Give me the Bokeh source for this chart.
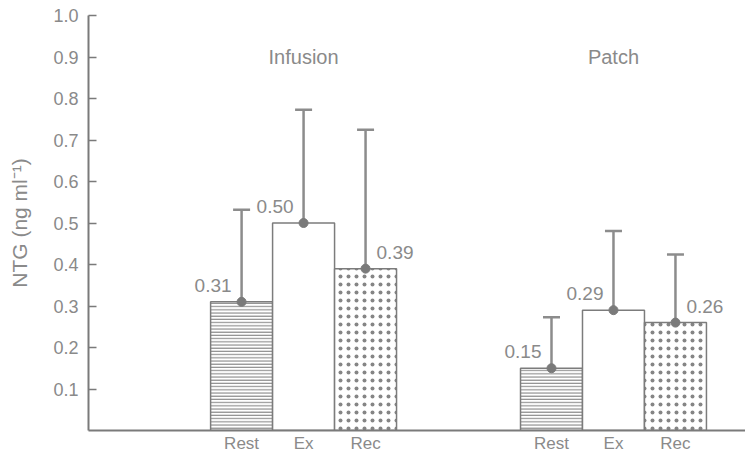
from bokeh.plotting import figure
from bokeh.models import Range1d, FixedTicker, ColumnDataSource, Whisker, TeeHead, Label, PrintfTickFormatter
from bokeh.core.properties import value
from bokeh.embed import file_html
from bokeh.resources import INLINE

groups = ["Infusion", "Patch"]
conditions = ["Rest", "Ex", "Rec"]
means = [[0.31, 0.50, 0.39], [0.15, 0.29, 0.26]]
lows = [[0.09, 0.234, 0.064], [0.036, 0.105, 0.106]]
highs = [[0.532, 0.773, 0.725], [0.273, 0.481, 0.424]]
yticks = [0.1, 0.2, 0.3, 0.4, 0.5, 0.6, 0.7, 0.8, 0.9, 1.0]

FONT = "Liberation Sans"
GREY = "#8c8c8c"
TXT = "#8a8a8a"
GAP = 5  # group spacing in bar units

pat_of = {"Rest": "horizontal_line", "Ex": " ", "Rec": "dot"}
scale_of = {"Rest": 3.2, "Ex": 8, "Rec": 8}
weight_of = {"Rest": 1.1, "Ex": 1.0, "Rec": 3.0}

cols = {k: [] for k in ["x", "m", "lo", "hi", "lab", "pat", "hs", "hw", "align", "xo"]}
for g, grp in enumerate(groups):
    for i, c in enumerate(conditions):
        cols["x"].append(g * GAP + i)
        cols["m"].append(means[g][i])
        cols["lo"].append(lows[g][i])
        cols["hi"].append(highs[g][i])
        cols["lab"].append(f"{means[g][i]:.2f}")
        cols["pat"].append(pat_of[c])
        cols["hs"].append(scale_of[c])
        cols["hw"].append(weight_of[c])
        cols["align"].append("left" if c == "Rec" else "right")
        cols["xo"].append(11 if c == "Rec" else -10)

src = ColumnDataSource(cols)

p = figure(width=745, height=455, x_range=Range1d(-2.47, 8.13), y_range=Range1d(0, 1.0),
           output_backend="svg", toolbar_location=None,
           min_border_left=88, min_border_top=15, min_border_right=0, min_border_bottom=24)
p.outline_line_color = None
p.xgrid.visible = False
p.ygrid.visible = False
p.background_fill_color = "white"

p.vbar(x="x", top="m", width=1.0, bottom=0, source=src, fill_color="white",
       line_color="#7c7c7c", line_width=1.5, hatch_pattern="pat", hatch_color="#858585",
       hatch_scale="hs", hatch_weight="hw")

w = Whisker(base="x", upper="hi", lower="lo", source=src, line_color=GREY, line_width=2.5,
            upper_head=TeeHead(size=17, line_color=GREY, line_width=2.5),
            lower_head=TeeHead(size=17, line_color=GREY, line_width=2.5))
p.add_layout(w)
p.scatter(x="x", y="m", source=src, size=9, color="#7a7a7a")

p.text(x="x", y="m", text="lab", source=src, text_align="align", text_baseline="bottom",
       x_offset="xo", y_offset=-10, text_font_size="19px", text_color=TXT,
       text_font=value(FONT))

for g, grp in enumerate(groups):
    p.add_layout(Label(x=g * GAP + 1, y=0.899, text=grp, text_align="center",
                       text_baseline="middle", text_font_size="20px", text_color=TXT,
                       text_font=FONT))

ya = p.yaxis[0]
ya.ticker = FixedTicker(ticks=yticks)
ya.formatter = PrintfTickFormatter(format="%.1f")
ya.axis_label = "NTG (ng ml⁻¹)"
ya.axis_label_text_font = FONT
ya.axis_label_text_font_size = "21px"
ya.axis_label_text_font_style = "normal"
ya.axis_label_text_color = TXT
ya.axis_label_standoff = 19
ya.major_label_text_font = FONT
ya.major_label_text_font_size = "18px"
ya.major_label_text_color = TXT
ya.major_label_standoff = 10
ya.axis_line_color = "#7a7a7a"
ya.axis_line_width = 2
ya.major_tick_line_color = "#7a7a7a"
ya.major_tick_line_width = 1.5
ya.major_tick_in = 8
ya.major_tick_out = 0
ya.minor_tick_line_color = None

xa = p.xaxis[0]
xa.ticker = FixedTicker(ticks=cols["x"])
xa.major_label_overrides = {x: conditions[k % 3] for k, x in enumerate(cols["x"])}
xa.major_label_text_font = FONT
xa.major_label_text_font_size = "17px"
xa.major_label_text_color = TXT
xa.major_label_standoff = 3
xa.axis_line_color = "#7a7a7a"
xa.axis_line_width = 2
xa.major_tick_line_color = None
xa.major_tick_in = 0
xa.major_tick_out = 0
xa.minor_tick_line_color = None

open("out.html", "w").write(file_html(p, INLINE))
